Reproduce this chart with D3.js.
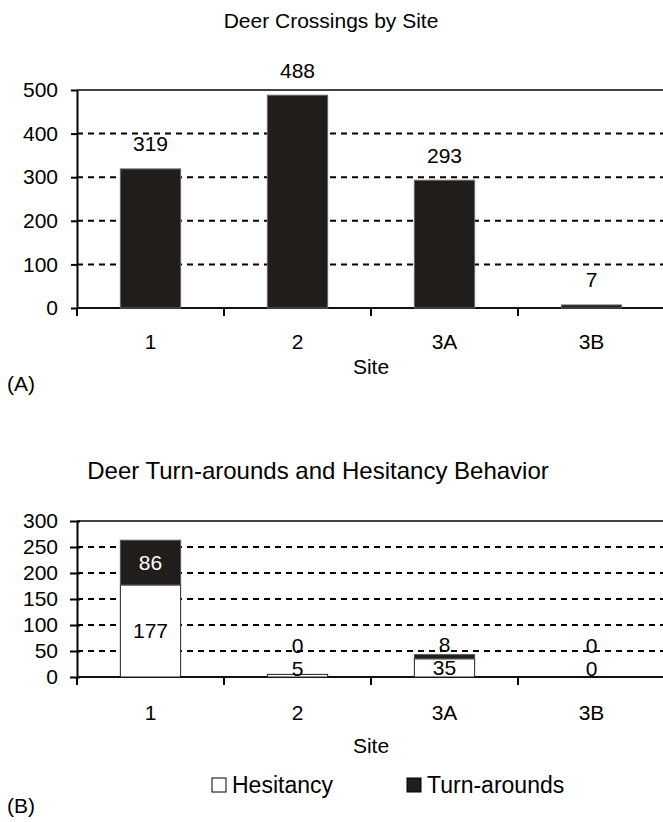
<!DOCTYPE html>
<html>
<head>
<meta charset="utf-8">
<script src="https://cdn.jsdelivr.net/npm/d3@7/dist/d3.min.js"></script>
<style>
  html, body { margin: 0; padding: 0; background: #fff; }
  svg { display: block; }
  text { font-family: "Liberation Sans", Arial, Helvetica, sans-serif; fill: #000; }
</style>
</head>
<body>
<svg id="chart" width="663" height="822"></svg>
<script>
// ---- data ----
const sites = ["1", "2", "3A", "3B"];
const crossings = [319, 488, 293, 7];
const hesitancy = [177, 5, 35, 0];
const turnarounds = [86, 0, 8, 0];
const yTicksA = [0, 100, 200, 300, 400, 500];
const yTicksB = [0, 50, 100, 150, 200, 250, 300];
const titleA = "Deer Crossings by Site";
const titleB = "Deer Turn-arounds and Hesitancy Behavior";
const xTitle = "Site";
const seriesNames = ["Hesitancy", "Turn-arounds"];

const DARK = "#211d1a";
const svg = d3.select("#chart");
const FS = 21;

function panel(cfg) {
  const g = svg.append("g");
  const x = d3.scaleBand().domain(sites).range([cfg.left, cfg.right])
    .paddingInner(0.59).paddingOuter(0.295);
  const y = d3.scaleLinear().domain([0, cfg.max]).range([cfg.bottom, cfg.top]);
  const step = x.step();
  const x0 = cfg.left;

  // grid lines (dashed)
  g.selectAll(".grid").data(cfg.ticks.filter(t => t > 0 && t < cfg.max)).enter()
    .append("line")
    .attr("x1", x0).attr("x2", cfg.right)
    .attr("y1", d => y(d)).attr("y2", d => y(d))
    .attr("stroke", "#000").attr("stroke-width", 2)
    .attr("stroke-dasharray", "6,5");

  // top border
  g.append("line").attr("x1", x0).attr("x2", cfg.right)
    .attr("y1", y(cfg.max)).attr("y2", y(cfg.max))
    .attr("stroke", "#444").attr("stroke-width", 2);

  // y axis
  const yAxis = d3.axisLeft(y).tickValues(cfg.ticks).tickSizeInner(cfg.tickIn).tickSizeOuter(0).tickPadding(cfg.tickPad);
  const ya = g.append("g").attr("transform", `translate(${x0},0)`).call(yAxis);
  ya.select(".domain").attr("stroke", "#000").attr("stroke-width", 2);
  ya.selectAll(".tick line").attr("stroke", "#000").attr("stroke-width", 2);
  if (cfg.cross) ya.selectAll(".tick line").attr("x2", -7).attr("x1", 3);
  ya.selectAll(".tick text").attr("font-size", FS).attr("font-family", "Liberation Sans, Arial, sans-serif").attr("fill", "#000");

  // x axis
  g.append("line").attr("x1", x0).attr("x2", cfg.right)
    .attr("y1", y(0)).attr("y2", y(0)).attr("stroke", "#111").attr("stroke-width", 2);
  const bounds = d3.range(sites.length + 1).map(i => x0 + i * step);
  g.selectAll(".xt").data(bounds).enter().append("line")
    .attr("x1", d => d).attr("x2", d => d)
    .attr("y1", y(0)).attr("y2", y(0) + 8)
    .attr("stroke", "#000").attr("stroke-width", 2);
  g.selectAll(".xl").data(sites).enter().append("text")
    .attr("x", d => x(d) + x.bandwidth() / 2).attr("y", cfg.xLabelY)
    .attr("text-anchor", "middle").attr("dominant-baseline", "central")
    .attr("font-size", FS).text(d => d);
  g.append("text").attr("x", (cfg.left + cfg.right) / 2).attr("y", cfg.xTitleY)
    .attr("text-anchor", "middle").attr("dominant-baseline", "central")
    .attr("font-size", FS).text(xTitle);
  g.append("text").attr("x", cfg.titleX).attr("y", cfg.titleY)
    .attr("text-anchor", "middle").attr("dominant-baseline", "central")
    .attr("font-size", cfg.titleFS).text(cfg.title);
  g.append("text").attr("x", 7).attr("y", cfg.tagY)
    .attr("dominant-baseline", "central").attr("font-size", FS).text(cfg.tag);
  return { g, x, y };
}

// ---- Panel A ----
const A = panel({ left: 77, right: 665, top: 90, bottom: 308, max: 500, ticks: yTicksA,
  tickIn: 6, tickPad: 13, cross: false, xLabelY: 341, xTitleY: 366, titleX: 331, titleY: 20, titleFS: 21,
  title: titleA, tag: "(A)", tagY: 383 });

A.g.selectAll(".bar").data(sites).enter().append("rect")
  .attr("x", d => A.x(d)).attr("width", A.x.bandwidth())
  .attr("y", (d, i) => A.y(crossings[i]))
  .attr("height", (d, i) => A.y(0) - A.y(crossings[i]))
  .attr("fill", DARK).attr("stroke", "#666").attr("stroke-width", 1);
A.g.selectAll(".lbl").data(sites).enter().append("text")
  .attr("x", d => A.x(d) + A.x.bandwidth() / 2)
  .attr("y", (d, i) => A.y(crossings[i]) - 25)
  .attr("text-anchor", "middle").attr("dominant-baseline", "central")
  .attr("font-size", FS).text((d, i) => crossings[i]);

// ---- Panel B ----
const B = panel({ left: 77, right: 665, top: 521, bottom: 677, max: 300, ticks: yTicksB,
  tickIn: 7, tickPad: 12, cross: true, xLabelY: 712, xTitleY: 745, titleX: 318, titleY: 470, titleFS: 24,
  title: titleB, tag: "(B)", tagY: 805 });

B.g.selectAll(".hbar").data(sites).enter().append("rect")
  .attr("x", d => B.x(d)).attr("width", B.x.bandwidth())
  .attr("y", (d, i) => B.y(hesitancy[i]))
  .attr("height", (d, i) => B.y(0) - B.y(hesitancy[i]))
  .attr("fill", "#fff").attr("stroke", "#222").attr("stroke-width", 1);
B.g.selectAll(".tbar").data(sites).enter().append("rect")
  .attr("x", d => B.x(d)).attr("width", B.x.bandwidth())
  .attr("y", (d, i) => B.y(hesitancy[i] + turnarounds[i]))
  .attr("height", (d, i) => B.y(hesitancy[i]) - B.y(hesitancy[i] + turnarounds[i]))
  .attr("fill", DARK).attr("stroke", "#555").attr("stroke-width", 1);

const hesY = hesitancy.map(h => Math.min(B.y(h / 2), B.y(0) - 9));
const turnY = turnarounds.map((t, i) => Math.min(B.y(hesitancy[i] + t / 2), hesY[i] - 23));
B.g.selectAll(".hl").data(sites).enter().append("text")
  .attr("x", d => B.x(d) + B.x.bandwidth() / 2).attr("y", (d, i) => hesY[i])
  .attr("text-anchor", "middle").attr("dominant-baseline", "central")
  .attr("font-size", FS).text((d, i) => hesitancy[i]);
B.g.selectAll(".tl").data(sites).enter().append("text")
  .attr("x", d => B.x(d) + B.x.bandwidth() / 2).attr("y", (d, i) => turnY[i])
  .attr("text-anchor", "middle").attr("dominant-baseline", "central")
  .attr("font-size", FS)
  .style("fill", (d, i) => turnarounds[i] > 20 ? "#fff" : "#000")
  .text((d, i) => turnarounds[i]);

// legend
const legX = [212, 407];
const legFill = ["#fff", DARK];
const leg = svg.append("g");
seriesNames.forEach((n, i) => {
  leg.append("rect").attr("x", legX[i]).attr("y", 778).attr("width", 14).attr("height", 14)
    .attr("fill", legFill[i]).attr("stroke", "#000").attr("stroke-width", 1);
  leg.append("text").attr("x", legX[i] + 20).attr("y", 785)
    .attr("dominant-baseline", "central").attr("font-size", 23).text(n);
});
</script>
</body>
</html>
